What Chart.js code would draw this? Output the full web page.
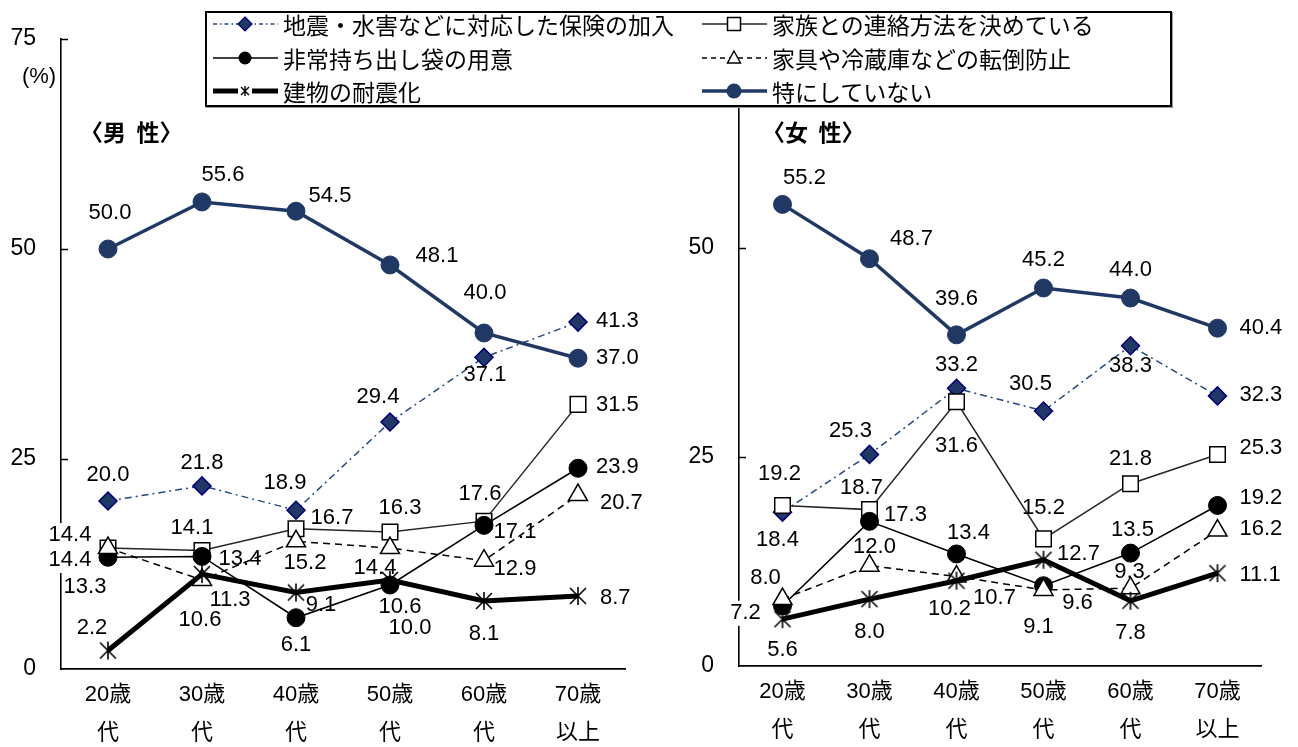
<!DOCTYPE html>
<html lang="ja">
<head>
<meta charset="utf-8">
<script src="https://cdn.jsdelivr.net/npm/chart.js@4.4.1/dist/chart.umd.min.js"></script>
<style>
  html, body { margin: 0; padding: 0; background: #fff; }
  #wrap { position: relative; width: 1298px; height: 747px; overflow: hidden; }
  #male { position: absolute; left: 0; top: 0; }
  #female { position: absolute; left: 650px; top: 0; }
  #legend {
    position: absolute; left: 205px; top: 11px; width: 963px; height: 92px;
    border: 2px solid #000; background: #fff; box-shadow: 1px 1px 0 #9a9a9a;
  }
  .item {
    position: absolute; height: 30px; display: flex; align-items: center;
    font-family: "Noto Sans CJK JP", sans-serif; font-size: 23px; color: #000; white-space: nowrap;
  }
  .item svg { margin-right: 5px; flex: none; }
</style>
</head>
<body>
<div id="wrap">
  <canvas id="male" width="650" height="747"></canvas>
  <canvas id="female" width="648" height="747"></canvas>
  <div id="legend"></div>
</div>
<script>
// ---- data -------------------------------------------------------------
const ageGroups = [['20歳', '代'], ['30歳', '代'], ['40歳', '代'], ['50歳', '代'], ['60歳', '代'], ['70歳', '以上']];
const yTickValues = [0, 25, 50, 75];
const seriesNames = [
  '地震・水害などに対応した保険の加入',
  '家族との連絡方法を決めている',
  '非常持ち出し袋の用意',
  '家具や冷蔵庫などの転倒防止',
  '建物の耐震化',
  '特にしていない'
];
const panelTitles = ['〈男  性〉', '〈女  性〉'];

const maleInsurance      = [20.0, 21.8, 18.9, 29.4, 37.1, 41.3];
const maleFamilyContact  = [14.4, 14.1, 16.7, 16.3, 17.6, 31.5];
const maleEmergencyBag   = [13.3, 13.4, 6.1, 10.0, 17.1, 23.9];
const maleFurnitureFix   = [14.4, 10.6, 15.2, 14.4, 12.9, 20.7];
const maleRetrofit       = [2.2, 11.3, 9.1, 10.6, 8.1, 8.7];
const maleNothing        = [50.0, 55.6, 54.5, 48.1, 40.0, 37.0];

const femaleInsurance     = [18.4, 25.3, 33.2, 30.5, 38.3, 32.3];
const femaleFamilyContact = [19.2, 18.7, 31.6, 15.2, 21.8, 25.3];
const femaleEmergencyBag  = [7.2, 17.3, 13.4, 9.6, 13.5, 19.2];
const femaleFurnitureFix  = [8.0, 12.0, 10.7, 9.1, 9.3, 16.2];
const femaleRetrofit      = [5.6, 8.0, 10.2, 12.7, 7.8, 11.1];
const femaleNothing       = [55.2, 48.7, 39.6, 45.2, 44.0, 40.4];

// ---- value label placement (offset from the point, alignment) --------
const maleLabelPlace = [
  [[0, -26, 'c'], [0, -23, 'c'], [-11, -27, 'c'], [-12, -25, 'c'], [1, 18, 'c'], [18, -1, 'l']],
  [[-38, -13, 'c'], [-10, -23, 'c'], [36, -11, 'c'], [10, -24, 'c'], [-4, -27, 'c'], [18, 1, 'l']],
  [[-23, 30, 'c'], [38, 2, 'c'], [0, 27, 'c'], [20, 43, 'c'], [31, 7, 'c'], [18, -1, 'l']],
  [[-38, 12, 'c'], [-2, 40, 'c'], [9, 22, 'c'], [-15, 20, 'c'], [31, 8, 'c'], [22, 8, 'l']],
  [[-16, -23, 'c'], [28, 26, 'c'], [25, 12, 'c'], [10, 27, 'c'], [0, 33, 'c'], [22, 2, 'l']],
  [[2, -36, 'c'], [21, -27, 'c'], [34, -15, 'c'], [47, -9, 'c'], [1, -40, 'c'], [18, 0, 'l']]
];
const femaleLabelPlace = [
  [[-5, 28, 'c'], [-19, -23, 'c'], [0, -23, 'c'], [-13, -27, 'c'], [0, 20, 'c'], [22, -1, 'l']],
  [[-3, -31, 'c'], [-8, -22, 'c'], [0, 44, 'c'], [0, -31, 'c'], [0, -25, 'c'], [22, -6, 'l']],
  [[-37, 7, 'c'], [36, -6, 'c'], [12, -21, 'c'], [34, 17, 'c'], [2, -23, 'c'], [22, -7, 'l']],
  [[-17, -21, 'c'], [5, -19, 'c'], [38, 21, 'c'], [-5, 37, 'c'], [-1, -16, 'c'], [22, -2, 'l']],
  [[0, 31, 'c'], [0, 33, 'c'], [-7, 28, 'c'], [35, -6, 'c'], [0, 32, 'c'], [22, 2, 'l']],
  [[22, -26, 'c'], [42, -20, 'c'], [0, -36, 'c'], [0, -28, 'c'], [0, -28, 'c'], [22, 0, 'l']]
];

// ---- styling ----------------------------------------------------------
const NAVY = '#1F3864';
const NUM_FONT = '"Liberation Sans", Arial, sans-serif';
const JP_FONT = '"Liberation Sans", "Noto Sans CJK JP", sans-serif';

function asteriskMark(size) {
  const c = document.createElement('canvas');
  c.width = size; c.height = size;
  const g = c.getContext('2d');
  const m = size / 2, d = size / 2 - 2;
  g.strokeStyle = '#000';
  g.lineWidth = 1.6;
  g.beginPath();
  g.moveTo(m - d, m - d); g.lineTo(m + d, m + d);
  g.moveTo(m + d, m - d); g.lineTo(m - d, m + d);
  g.moveTo(m, m - d - 1); g.lineTo(m, m + d + 1);
  g.stroke();
  return c;
}
const asterisk = asteriskMark(20);

function buildDatasets(values) {
  const base = { pointHoverRadius: 0, tension: 0, fill: false };
  return [
    Object.assign({}, base, { label: seriesNames[0], data: values[0], order: 5,
      borderColor: '#24487E', borderWidth: 1.5, borderDash: [7, 4, 2, 4],
      pointStyle: 'rectRot', pointRadius: 9, pointBackgroundColor: NAVY,
      pointBorderColor: '#000080', pointBorderWidth: 1.5 }),
    Object.assign({}, base, { label: seriesNames[1], data: values[1], order: 4,
      borderColor: '#262626', borderWidth: 1.5,
      pointStyle: 'rect', pointRadius: 11, pointBackgroundColor: '#fff',
      pointBorderColor: '#000', pointBorderWidth: 1.5 }),
    Object.assign({}, base, { label: seriesNames[2], data: values[2], order: 3,
      borderColor: '#000', borderWidth: 1.6,
      pointStyle: 'circle', pointRadius: 9, pointBackgroundColor: '#000',
      pointBorderColor: '#000', pointBorderWidth: 1 }),
    Object.assign({}, base, { label: seriesNames[3], data: values[3], order: 2,
      borderColor: '#000', borderWidth: 1.5, borderDash: [7, 5],
      pointStyle: 'triangle', pointRadius: 11, pointBackgroundColor: '#fff',
      pointBorderColor: '#000', pointBorderWidth: 1.5 }),
    Object.assign({}, base, { label: seriesNames[4], data: values[4], order: 1,
      borderColor: '#000', borderWidth: 5,
      pointStyle: asterisk, pointRadius: 10 }),
    Object.assign({}, base, { label: seriesNames[5], data: values[5], order: 0,
      borderColor: NAVY, borderWidth: 3.5,
      pointStyle: 'circle', pointRadius: 9, pointBackgroundColor: NAVY,
      pointBorderColor: NAVY, pointBorderWidth: 1 })
  ];
}

// value labels beside each point
const valueLabels = {
  id: 'valueLabels',
  afterDatasetsDraw(chart, args, opts) {
    const ctx = chart.ctx;
    const area = chart.chartArea;
    ctx.save();
    ctx.font = '22px ' + NUM_FONT;
    ctx.textBaseline = 'middle';
    ctx.textAlign = 'left';
    chart.data.datasets.forEach((ds, di) => {
      const meta = chart.getDatasetMeta(di);
      meta.data.forEach((pt, i) => {
        const [dx, dy, al] = opts.place[di][i];
        const txt = ds.data[i].toFixed(1);
        const w = ctx.measureText(txt).width;
        const x = pt.x + dx;
        const left = al === 'l' ? x : (al === 'r' ? x - w : x - w / 2);
        const y = pt.y + dy;
        if (left < area.left + 2 && left + w > area.left - 2) {
          ctx.fillStyle = '#fff';
          ctx.fillRect(left - 3, y - 12, w + 6, 25);
        }
        ctx.fillStyle = '#000';
        ctx.fillText(txt, left, y);
      });
    });
    ctx.restore();
  }
};

// inner tick marks on the value axis, panel title and unit
const panelDecor = {
  id: 'panelDecor',
  afterDraw(chart, args, opts) {
    const ctx = chart.ctx;
    const area = chart.chartArea;
    const ys = chart.scales.y;
    ctx.save();
    ctx.strokeStyle = '#000';
    ctx.lineWidth = 1.5;
    ys.ticks.forEach(t => {
      if (t.value === 0) return;
      const py = Math.round(ys.getPixelForValue(t.value)) + 0.5;
      ctx.beginPath();
      ctx.moveTo(area.left, py);
      ctx.lineTo(area.left + 7, py);
      ctx.stroke();
    });
    ctx.fillStyle = '#000';
    ctx.textBaseline = 'middle';
    ctx.textAlign = 'left';
    ctx.font = 'bold 23px "Noto Sans CJK JP", sans-serif';
    ctx.fillText(opts.title, area.left + opts.titleDx, 132);
    if (opts.unit) {
      ctx.font = '22px ' + NUM_FONT;
      ctx.textAlign = 'center';
      ctx.fillText(opts.unit, 39, 77);
    }
    ctx.restore();
  }
};

function makeChart(canvasId, values, place, geo, title, titleDx, unit) {
  return new Chart(document.getElementById(canvasId), {
    type: 'line',
    data: { labels: ageGroups, datasets: buildDatasets(values) },
    plugins: [valueLabels, panelDecor],
    options: {
      responsive: false,
      animation: false,
      devicePixelRatio: 1,
      events: [],
      layout: { padding: { top: geo.top, right: geo.right, bottom: 0, left: 0 } },
      plugins: {
        legend: { display: false },
        tooltip: { enabled: false },
        valueLabels: { place: place },
        panelDecor: { title: title, titleDx: titleDx, unit: unit }
      },
      scales: {
        x: {
          type: 'category',
          offset: true,
          grid: { display: false, drawTicks: false },
          border: { display: true, color: '#000', width: 1.8 },
          ticks: {
            color: '#000', padding: 7, maxRotation: 0, autoSkip: false,
            font: { family: JP_FONT, size: 22, lineHeight: 1.73 }
          },
          afterFit(s) { s.height = geo.xHeight; }
        },
        y: {
          min: 0, max: 75,
          afterBuildTicks(s) { s.ticks = yTickValues.map(v => ({ value: v })); },
          grid: { display: false, drawTicks: false },
          border: { display: true, color: '#000', width: 1.6 },
          ticks: { color: '#000', padding: 25, font: { family: NUM_FONT, size: 23 } },
          afterFit(s) { s.width = geo.yWidth; }
        }
      }
    }
  });
}

makeChart('male',
  [maleInsurance, maleFamilyContact, maleEmergencyBag, maleFurnitureFix, maleRetrofit, maleNothing],
  maleLabelPlace, { top: 39, right: 25, yWidth: 61, xHeight: 78 }, panelTitles[0], 19, '(%)');
makeChart('female',
  [femaleInsurance, femaleFamilyContact, femaleEmergencyBag, femaleFurnitureFix, femaleRetrofit, femaleNothing],
  femaleLabelPlace, { top: 36, right: 37, yWidth: 89, xHeight: 81 }, panelTitles[1], 23, null);

// ---- legend box ---------------------------------------------------------
const legendSamples = [
  '<line x1="0" y1="12" x2="65" y2="12" stroke="#24487E" stroke-width="1.5" stroke-dasharray="4 3 1.5 3"/>' +
    '<polygon points="32,5 39,12 32,19 25,12" fill="' + NAVY + '" stroke="#000080" stroke-width="1.2"/>',
  '<line x1="0" y1="12" x2="65" y2="12" stroke="#262626" stroke-width="1.5"/>' +
    '<rect x="25.5" y="5.5" width="13" height="13" fill="#fff" stroke="#000" stroke-width="1.5"/>',
  '<line x1="0" y1="12" x2="65" y2="12" stroke="#000" stroke-width="1.6"/>' +
    '<circle cx="32" cy="12" r="6.5" fill="#000"/>',
  '<line x1="0" y1="12" x2="65" y2="12" stroke="#000" stroke-width="1.5" stroke-dasharray="5 4"/>' +
    '<polygon points="32,5 38.5,17 25.5,17" fill="#fff" stroke="#000" stroke-width="1.4"/>',
  '<line x1="0" y1="12" x2="25" y2="12" stroke="#000" stroke-width="5"/>' +
    '<line x1="39" y1="12" x2="65" y2="12" stroke="#000" stroke-width="5"/>' +
    '<path d="M28,8 L36,16 M36,8 L28,16 M32,7 L32,17" stroke="#000" stroke-width="1.4" fill="none"/>',
  '<line x1="0" y1="12" x2="65" y2="12" stroke="' + NAVY + '" stroke-width="3.5"/>' +
    '<circle cx="32" cy="12" r="7.5" fill="' + NAVY + '"/>'
];
// legend order: left column then right column, row by row
const legendCells = [
  { s: 0, col: 0, row: 0 }, { s: 1, col: 1, row: 0 },
  { s: 2, col: 0, row: 1 }, { s: 3, col: 1, row: 1 },
  { s: 4, col: 0, row: 2 }, { s: 5, col: 1, row: 2 }
];
const legendColX = [6, 495];
const legendRowY = [-4, 30, 63];
const legendEl = document.getElementById('legend');
legendCells.forEach(cell => {
  const div = document.createElement('div');
  div.className = 'item';
  div.style.left = legendColX[cell.col] + 'px';
  div.style.top = legendRowY[cell.row] + 'px';
  div.innerHTML = '<svg width="65" height="24" viewBox="0 0 65 24">' + legendSamples[cell.s] + '</svg>';
  const span = document.createElement('span');
  span.textContent = seriesNames[cell.s];
  div.appendChild(span);
  legendEl.appendChild(div);
});
</script>
</body>
</html>
